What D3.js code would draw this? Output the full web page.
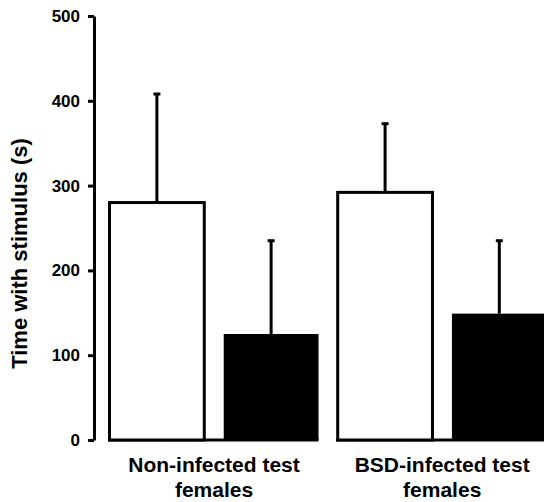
<!DOCTYPE html>
<html>
<head>
<meta charset="utf-8">
<script src="https://cdn.jsdelivr.net/npm/d3@7"></script>
<style>
  html, body { margin: 0; padding: 0; background: #fff; }
  svg { display: block; }
  text { font-family: "Liberation Sans", Arial, Helvetica, sans-serif; font-weight: bold; fill: #000; }
</style>
</head>
<body>
<svg id="chart" width="544" height="502"></svg>
<script>
// ---- data ----
const groups = ["Non-infected test females", "BSD-infected test females"];
const groupLines = [["Non-infected test", "females"], ["BSD-infected test", "females"]];
const series = ["white", "black"];
const means = [[280, 125], [292, 149]];
const errors = [[128, 110], [81, 86]];
const yTicks = [0, 100, 200, 300, 400, 500];
const yLabel = "Time with stimulus (s)";

// ---- layout ----
const svg = d3.select("#chart");
const axisX = 94;

const y = d3.scaleLinear().domain([0, 500]).range([440, 16]);

const x0 = d3.scaleBand()
  .domain(groups)
  .range([109.5, 109.5 + 228.2 + 209])
  .paddingInner(19.2 / 228.2)
  .paddingOuter(0);

const x1 = d3.scaleBand()
  .domain(series)
  .range([0, x0.bandwidth()])
  .paddingInner(19.5 / 114.5)
  .paddingOuter(0);

// y axis
const yAxis = d3.axisLeft(y)
  .tickValues(yTicks)
  .tickSize(6)
  .tickSizeOuter(0)
  .tickPadding(8);

const gy = svg.append("g")
  .attr("transform", `translate(${axisX},0)`)
  .call(yAxis);
gy.select(".domain").attr("stroke", "#000").attr("stroke-width", 3);
gy.selectAll(".tick line").attr("stroke", "#000").attr("stroke-width", 3);
gy.selectAll(".tick text")
  .style("font-size", "17px")
  .style("font-weight", "bold")
  .style("font-family", "'Liberation Sans', Arial, sans-serif")
  .attr("fill", "#000");

// y label
svg.append("text")
  .attr("transform", `translate(26.5,253.5) rotate(-90)`)
  .attr("text-anchor", "middle")
  .style("font-size", "22px")
  .text(yLabel);

// groups
const g = svg.selectAll("g.group")
  .data(groups.map((name, i) => ({ name, i })))
  .enter().append("g")
  .attr("class", "group")
  .attr("transform", d => `translate(${x0(d.name)},0)`);

// baseline per group
g.append("line")
  .attr("x1", -1.5)
  .attr("x2", x1("black") + x1.bandwidth())
  .attr("y1", y(0))
  .attr("y2", y(0))
  .attr("stroke", "#000")
  .attr("stroke-width", 3);

const bars = g.selectAll("g.bar")
  .data(d => series.map((s, j) => ({ s, v: means[d.i][j], e: errors[d.i][j] })))
  .enter().append("g").attr("class", "bar");

// error bars (behind the bars)
bars.append("line")
  .attr("x1", d => x1(d.s) + x1.bandwidth() / 2)
  .attr("x2", d => x1(d.s) + x1.bandwidth() / 2)
  .attr("y1", d => y(d.v))
  .attr("y2", d => y(d.v + d.e))
  .attr("stroke", "#000")
  .attr("stroke-width", 3);
bars.append("line")
  .attr("x1", d => x1(d.s) + x1.bandwidth() / 2 - 3.5)
  .attr("x2", d => x1(d.s) + x1.bandwidth() / 2 + 3.5)
  .attr("y1", d => y(d.v + d.e))
  .attr("y2", d => y(d.v + d.e))
  .attr("stroke", "#000")
  .attr("stroke-width", 3);

bars.append("rect")
  .attr("x", d => x1(d.s))
  .attr("width", x1.bandwidth())
  .attr("y", d => y(d.v))
  .attr("height", d => y(0) - y(d.v))
  .attr("fill", d => d.s === "white" ? "#fff" : "#000")
  .attr("stroke", d => d.s === "white" ? "#000" : "none")
  .attr("stroke-width", 3);

// x labels
g.each(function(d) {
  const t = d3.select(this).append("text")
    .attr("x", (x1("black") + x1.bandwidth()) / 2)
    .attr("text-anchor", "middle")
    .style("font-size", "21px");
  groupLines[d.i].forEach((line, k) => {
    t.append("tspan")
      .attr("x", (x1("black") + x1.bandwidth()) / 2)
      .attr("y", 472 + k * 25)
      .text(line);
  });
});
</script>
</body>
</html>
